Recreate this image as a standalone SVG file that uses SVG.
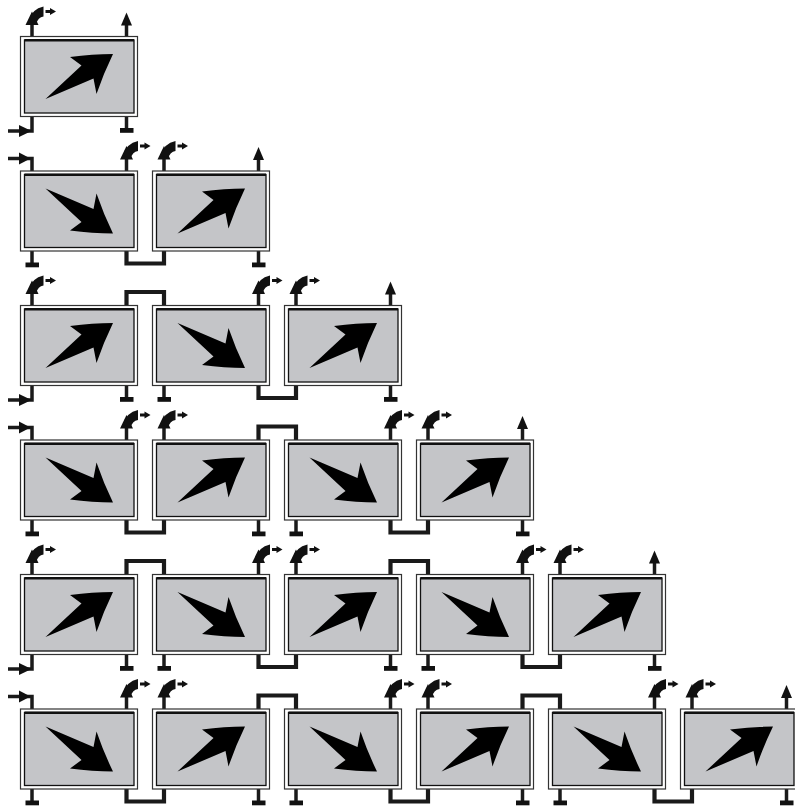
<svg xmlns="http://www.w3.org/2000/svg" xmlns:xlink="http://www.w3.org/1999/xlink" width="795" height="808" viewBox="0 0 795 808">
<style>
.outer{fill:#fff;stroke:#333;stroke-width:1.2}
.inner{fill:#c4c5c8;stroke:#111;stroke-width:1.3}
.topl{stroke:#111;stroke-width:2.4}
.arr{fill:#000}
.pipe{fill:none;stroke:#1a1a1a;stroke-width:3.5;stroke-linejoin:miter}
.link{fill:none;stroke:#1a1a1a;stroke-width:4.2;stroke-linejoin:miter}
.blk{fill:#111}
</style>
<defs>
<g id="frame">
<rect class="outer" x="0" y="0" width="117" height="80"/>
<rect class="inner" x="4" y="3.5" width="109.5" height="73"/>
<line class="topl" x1="4" y1="3.8" x2="113.5" y2="3.8"/>
</g>
<path id="ne" class="arr" d="M25,62.5 L61,29 L49.5,20.5 Q72,17.5 92.5,17.5 Q83,37 76,57.5 L73,42 Z"/>
<g id="vent">
<line class="pipe" x1="0" y1="0" x2="0" y2="-13"/>
<polygon class="blk" points="-6.5,-11.5 6.5,-11.5 0,-25"/>
<path class="blk" d="M-3.5,-16 Q0,-27.5 11.5,-30 L11.5,-20 Q6,-19.5 4,-12 Z"/>
<line x1="13.5" y1="-25" x2="19" y2="-25" stroke="#111" stroke-width="3"/>
<polygon class="blk" points="18,-28.5 24,-25 18,-21.5"/>
</g>
<g id="up">
<line class="pipe" x1="0" y1="0" x2="0" y2="-12"/>
<polygon class="blk" points="-5.5,-11 5.5,-11 0,-24"/>
</g>
<g id="cap">
<line class="pipe" x1="0" y1="0" x2="0" y2="12"/>
<rect class="blk" x="-6.5" y="11.5" width="13.5" height="4.8"/>
</g>
<g id="inTop">
<path class="pipe" d="M-24,-12.5 H0 V0"/>
<polygon class="blk" points="-13,-18.5 -1.5,-12.5 -13,-6.5"/>
</g>
<g id="inBot">
<path class="pipe" d="M-24,14.5 H0 V0"/>
<polygon class="blk" points="-13,8.5 -0.5,14.5 -13,20.5"/>
</g>
</defs>

<g id="connectors">
<!-- Row 1 -->
<use href="#vent" x="32" y="36.5"/><use href="#up" x="126.5" y="36.5"/>
<use href="#inBot" x="32" y="116.5"/><use href="#cap" x="126.5" y="116.5"/>
<!-- Row 2 -->
<use href="#inTop" x="32" y="171"/><use href="#vent" x="126.5" y="171"/><use href="#vent" x="164" y="171"/><use href="#up" x="258.5" y="171"/>
<use href="#cap" x="32" y="251"/><path class="link" d="M126.5,251 V263.5 H164 V251"/><use href="#cap" x="258.5" y="251"/>
<!-- Row 3 -->
<use href="#vent" x="32" y="305.5"/><path class="link" d="M126.5,305.5 V292 H164 V305.5"/><use href="#vent" x="258.5" y="305.5"/><use href="#vent" x="296" y="305.5"/><use href="#up" x="390.5" y="305.5"/>
<use href="#inBot" x="32" y="385.5"/><use href="#cap" x="126.5" y="385.5"/><use href="#cap" x="164" y="385.5"/><path class="link" d="M258.5,385.5 V398 H296 V385.5"/><use href="#cap" x="390.5" y="385.5"/>
<!-- Row 4 -->
<use href="#inTop" x="32" y="440"/><use href="#vent" x="126.5" y="440"/><use href="#vent" x="164" y="440"/><path class="link" d="M258.5,440 V426.5 H296 V440"/><use href="#vent" x="390.5" y="440"/><use href="#vent" x="428" y="440"/><use href="#up" x="522.5" y="440"/>
<use href="#cap" x="32" y="520"/><path class="link" d="M126.5,520 V532.5 H164 V520"/><use href="#cap" x="258.5" y="520"/><use href="#cap" x="296" y="520"/><path class="link" d="M390.5,520 V532.5 H428 V520"/><use href="#cap" x="522.5" y="520"/>
<!-- Row 5 -->
<use href="#vent" x="32" y="574.5"/><path class="link" d="M126.5,574.5 V561 H164 V574.5"/><use href="#vent" x="258.5" y="574.5"/><use href="#vent" x="296" y="574.5"/><path class="link" d="M390.5,574.5 V561 H428 V574.5"/><use href="#vent" x="522.5" y="574.5"/><use href="#vent" x="560" y="574.5"/><use href="#up" x="654.5" y="574.5"/>
<use href="#inBot" x="32" y="654.5"/><use href="#cap" x="126.5" y="654.5"/><use href="#cap" x="164" y="654.5"/><path class="link" d="M258.5,654.5 V667 H296 V654.5"/><use href="#cap" x="390.5" y="654.5"/><use href="#cap" x="428" y="654.5"/><path class="link" d="M522.5,654.5 V667 H560 V654.5"/><use href="#cap" x="654.5" y="654.5"/>
<!-- Row 6 -->
<use href="#inTop" x="32" y="709"/><use href="#vent" x="126.5" y="709"/><use href="#vent" x="164" y="709"/><path class="link" d="M258.5,709 V695.5 H296 V709"/><use href="#vent" x="390.5" y="709"/><use href="#vent" x="428" y="709"/><path class="link" d="M522.5,709 V695.5 H560 V709"/><use href="#vent" x="654.5" y="709"/><use href="#vent" x="692" y="709"/><use href="#up" x="786.5" y="709"/>
<use href="#cap" x="32" y="789"/><path class="link" d="M126.5,789 V801.5 H164 V789"/><use href="#cap" x="258.5" y="789"/><use href="#cap" x="296" y="789"/><path class="link" d="M390.5,789 V801.5 H428 V789"/><use href="#cap" x="522.5" y="789"/><use href="#cap" x="560" y="789"/><path class="link" d="M654.5,789 V801.5 H692 V789"/><use href="#cap" x="786.5" y="789"/>
</g>

<g id="r1c1" transform="translate(20.5,36.5)"><use href="#frame"/><use href="#ne"/></g>

<g id="r2c1" transform="translate(20.5,171)"><use href="#frame"/><use href="#ne" transform="matrix(1,0,0,-1,0,80)"/></g>
<g id="r2c2" transform="translate(152.5,171)"><use href="#frame"/><use href="#ne"/></g>

<g id="r3c1" transform="translate(20.5,305.5)"><use href="#frame"/><use href="#ne"/></g>
<g id="r3c2" transform="translate(152.5,305.5)"><use href="#frame"/><use href="#ne" transform="matrix(1,0,0,-1,0,80)"/></g>
<g id="r3c3" transform="translate(284.5,305.5)"><use href="#frame"/><use href="#ne"/></g>

<g id="r4c1" transform="translate(20.5,440)"><use href="#frame"/><use href="#ne" transform="matrix(1,0,0,-1,0,80)"/></g>
<g id="r4c2" transform="translate(152.5,440)"><use href="#frame"/><use href="#ne"/></g>
<g id="r4c3" transform="translate(284.5,440)"><use href="#frame"/><use href="#ne" transform="matrix(1,0,0,-1,0,80)"/></g>
<g id="r4c4" transform="translate(416.5,440)"><use href="#frame"/><use href="#ne"/></g>

<g id="r5c1" transform="translate(20.5,574.5)"><use href="#frame"/><use href="#ne"/></g>
<g id="r5c2" transform="translate(152.5,574.5)"><use href="#frame"/><use href="#ne" transform="matrix(1,0,0,-1,0,80)"/></g>
<g id="r5c3" transform="translate(284.5,574.5)"><use href="#frame"/><use href="#ne"/></g>
<g id="r5c4" transform="translate(416.5,574.5)"><use href="#frame"/><use href="#ne" transform="matrix(1,0,0,-1,0,80)"/></g>
<g id="r5c5" transform="translate(548.5,574.5)"><use href="#frame"/><use href="#ne"/></g>

<g id="r6c1" transform="translate(20.5,709)"><use href="#frame"/><use href="#ne" transform="matrix(1,0,0,-1,0,80)"/></g>
<g id="r6c2" transform="translate(152.5,709)"><use href="#frame"/><use href="#ne"/></g>
<g id="r6c3" transform="translate(284.5,709)"><use href="#frame"/><use href="#ne" transform="matrix(1,0,0,-1,0,80)"/></g>
<g id="r6c4" transform="translate(416.5,709)"><use href="#frame"/><use href="#ne"/></g>
<g id="r6c5" transform="translate(548.5,709)"><use href="#frame"/><use href="#ne" transform="matrix(1,0,0,-1,0,80)"/></g>
<g id="r6c6" transform="translate(680.5,709)"><use href="#frame"/><use href="#ne"/></g>
</svg>
